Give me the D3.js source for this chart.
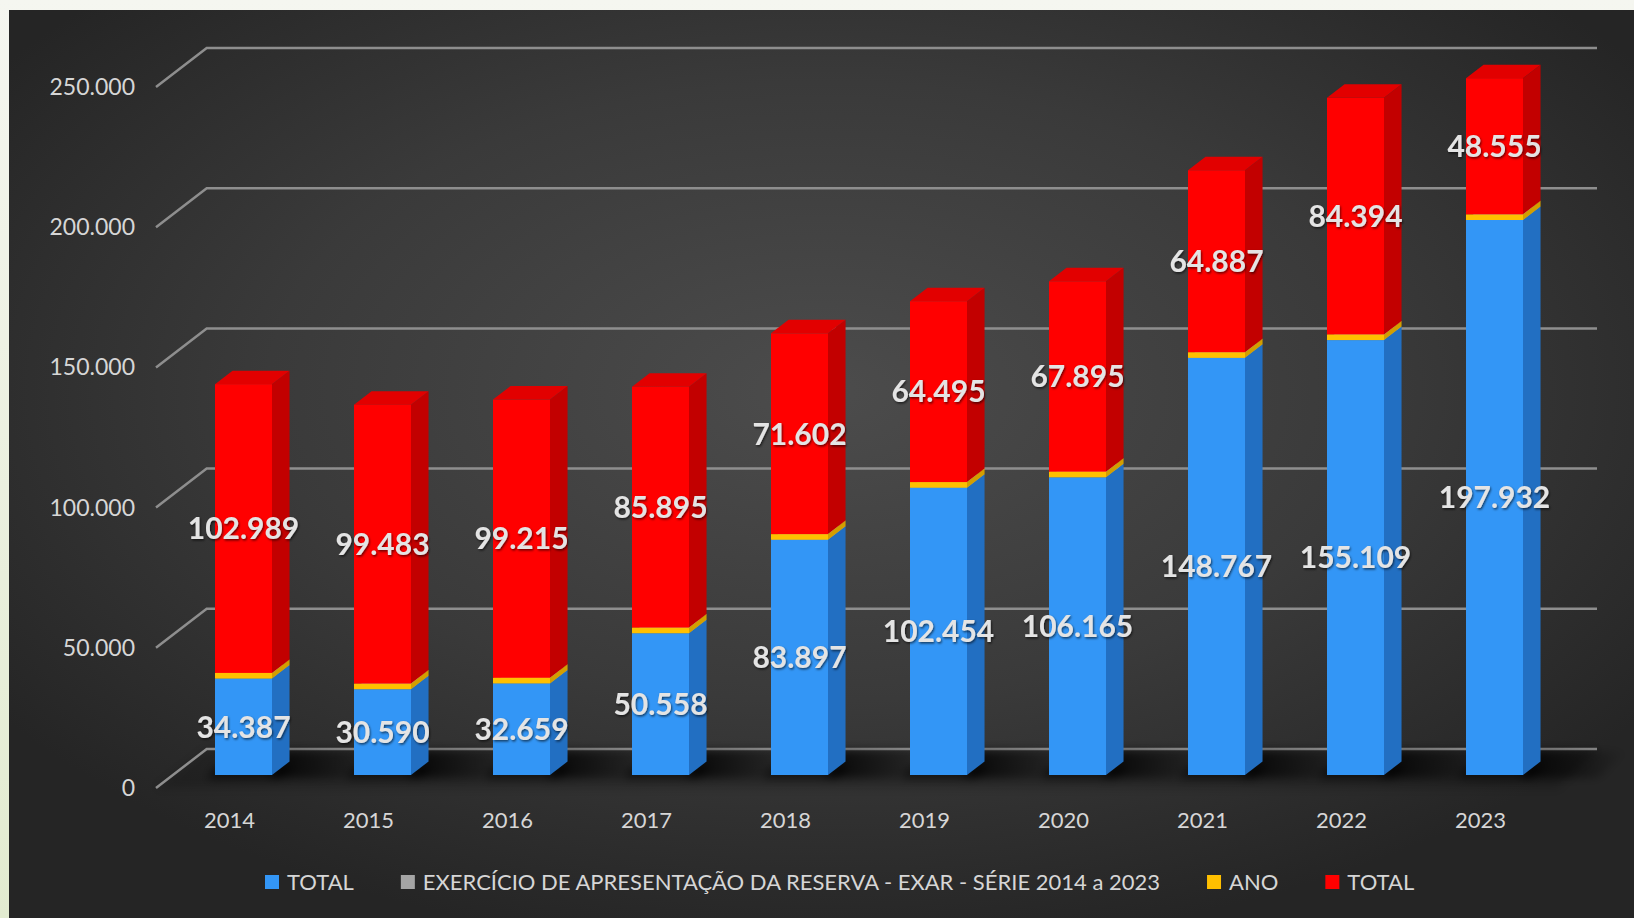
<!DOCTYPE html>
<html>
<head>
<meta charset="utf-8">
<script src="https://cdn.jsdelivr.net/npm/d3@7"></script>
<style>
  html, body { margin: 0; padding: 0; background: #eef2e4; }
  svg { display: block; }
  text { font-family: Lato, "Open Sans", sans-serif; }
</style>
</head>
<body>
<div id="chart"></div>
<script>
// dados da série
var years = ["2014", "2015", "2016", "2017", "2018", "2019", "2020", "2021", "2022", "2023"];
var totalBlue = [34387, 30590, 32659, 50558, 83897, 102454, 106165, 148767, 155109, 197932];
var exarValues = [0, 0, 0, 0, 0, 0, 0, 0, 0, 0];
var anoValues = [2014, 2015, 2016, 2017, 2018, 2019, 2020, 2021, 2022, 2023];
var totalRed = [102989, 99483, 99215, 85895, 71602, 64495, 67895, 64887, 84394, 48555];
var yTicks = [0, 50000, 100000, 150000, 200000, 250000];
var legendLabels = ["TOTAL", "EXERCÍCIO DE APRESENTAÇÃO DA RESERVA - EXAR - SÉRIE 2014 a 2023", "ANO", "TOTAL"];

var W = 1634, H = 918;

var series = [
    {key: "blue", values: totalBlue, front: "#3396f6", side: "#226fc2", top: "#55aaff", label: true},
    {key: "exar", values: exarValues, front: "#a5a5a5", side: "#7f7f7f", top: "#bdbdbd", label: false},
    {key: "ano", values: anoValues, front: "#ffc000", side: "#d39e00", top: "#ffd54a", label: false},
    {key: "red", values: totalRed, front: "#ff0000", side: "#c20000", top: "#e20000", label: true}
];

var rows = years.map(function(y, i) {
    var r = {year: y};
    series.forEach(function(s) { r[s.key] = s.values[i]; });
    return r;
});

var stacked = d3.stack().keys(series.map(function(s) { return s.key; }))(rows);

var fmt = d3.formatLocale({decimal: ",", thousands: ".", grouping: [3], currency: ["R$", ""]}).format(",d");

// direção da profundidade (projeção oblíqua)
function off(d) { return [d * 1.3, -d]; }
var barDepth = 13.5, floorFront = -13, wallBack = 26;

var x = d3.scaleBand()
    .domain(years)
    .range([174, 1564])
    .paddingInner(0.59)
    .paddingOuter(0.295);

var y = d3.scaleLinear()
    .domain([0, 250000])
    .range([775, 74]);

var svg = d3.select("#chart").append("svg")
    .attr("width", W)
    .attr("height", H);

var defs = svg.append("defs");

var outer = defs.append("linearGradient").attr("id", "outerBg")
    .attr("x1", 0).attr("y1", 0).attr("x2", 0).attr("y2", 1);
outer.append("stop").attr("offset", "0%").attr("stop-color", "#f5f6f0");
outer.append("stop").attr("offset", "100%").attr("stop-color", "#e2ebd0");

var panel = defs.append("radialGradient").attr("id", "panelBg")
    .attr("cx", "50%").attr("cy", "42%").attr("r", "62%");
panel.append("stop").attr("offset", "0%").attr("stop-color", "#4c4c4c");
panel.append("stop").attr("offset", "55%").attr("stop-color", "#3a3a3a");
panel.append("stop").attr("offset", "100%").attr("stop-color", "#252525");

var shade = defs.append("linearGradient").attr("id", "shadowGrad")
    .attr("x1", 0).attr("y1", 0).attr("x2", 1).attr("y2", 0);
shade.append("stop").attr("offset", "0%").attr("stop-color", "#000").attr("stop-opacity", 0.85);
shade.append("stop").attr("offset", "100%").attr("stop-color", "#000").attr("stop-opacity", 0);

defs.append("filter").attr("id", "blur").attr("x", "-20%").attr("y", "-50%").attr("width", "140%").attr("height", "200%")
    .append("feGaussianBlur").attr("stdDeviation", 4);

var txtShadow = defs.append("filter").attr("id", "txtShadow");
txtShadow.append("feDropShadow").attr("dx", 1).attr("dy", 1.5).attr("stdDeviation", 1.2)
    .attr("flood-color", "#000").attr("flood-opacity", 0.6);

svg.append("rect").attr("width", W).attr("height", H).attr("fill", "url(#outerBg)");
svg.append("rect").attr("x", 9).attr("y", 10).attr("width", W - 9).attr("height", H - 10)
    .attr("fill", "url(#panelBg)");

var wallLeft = 156, backRight = 1597;
function pt(px, py, d) { var o = off(d); return [px + o[0], py + o[1]]; }

// piso
svg.append("polygon")
    .attr("points", [[wallLeft, y(0) - floorFront], pt(wallLeft, y(0) - floorFront, wallBack - floorFront),
        [backRight, y(0) - wallBack], [backRight - 40, y(0) - floorFront]].join(" "))
    .attr("fill", "#000").attr("opacity", 0.18).attr("filter", "url(#blur)");

// linhas de grade + rótulos do eixo
var grid = svg.append("g").attr("class", "grid");
yTicks.forEach(function(v) {
    var fy = y(v) - floorFront;
    var b = pt(wallLeft, fy, wallBack - floorFront);
    grid.append("polyline")
        .attr("points", [[wallLeft, fy], b, [backRight, b[1]]].join(" "))
        .attr("fill", "none")
        .attr("stroke", "#8e8e8e")
        .attr("stroke-width", 2.5);
    grid.append("text")
        .attr("x", 135)
        .attr("y", fy)
        .attr("dy", "0.35em")
        .attr("text-anchor", "end")
        .attr("font-size", 23)
        .attr("fill", "#d6d6d6")
        .text(fmt(v));
});

// sombras das barras no piso
var shadows = svg.append("g").attr("filter", "url(#blur)");
years.forEach(function(yr) {
    var xr = x(yr) + x.bandwidth();
    var y0 = y(0);
    shadows.append("polygon")
        .attr("points", [[xr - 4, y0 + 3], [xr + 75, y0 + 3], [xr + 75 + 30, y0 - 24], [xr + 14, y0 - 24]].join(" "))
        .attr("fill", "url(#shadowGrad)");
    shadows.append("polygon")
        .attr("points", [[x(yr) - 8, y0 + 4], [xr + 10, y0 + 4], [xr + 20, y0 - 8], [x(yr), y0 - 8]].join(" "))
        .attr("fill", "#000").attr("opacity", 0.55);
});

// barras empilhadas 3D
var bars = svg.append("g").attr("class", "bars");
var bw = x.bandwidth();
var dd = off(barDepth);
stacked.forEach(function(layer, si) {
    var s = series[si];
    layer.forEach(function(d, i) {
        if (d[1] - d[0] <= 0) return;
        var x0 = x(years[i]), yb = y(d[0]), yt = y(d[1]);
        var g = bars.append("g");
        g.append("polygon")
            .attr("points", [[x0 + bw, yb], [x0 + bw + dd[0], yb + dd[1]], [x0 + bw + dd[0], yt + dd[1]], [x0 + bw, yt]].join(" "))
            .attr("fill", s.side);
        g.append("polygon")
            .attr("points", [[x0, yt], [x0 + bw, yt], [x0 + bw + dd[0], yt + dd[1]], [x0 + dd[0], yt + dd[1]]].join(" "))
            .attr("fill", s.top);
        g.append("rect")
            .attr("x", x0).attr("y", yt)
            .attr("width", bw).attr("height", yb - yt)
            .attr("fill", s.front);
    });
});

// rótulos de dados
var labels = svg.append("g").attr("class", "labels");
stacked.forEach(function(layer, si) {
    var s = series[si];
    if (!s.label) return;
    layer.forEach(function(d, i) {
        labels.append("text")
            .attr("x", x(years[i]) + bw / 2)
            .attr("y", (y(d[0]) + y(d[1])) / 2)
            .attr("dy", "0.36em")
            .attr("text-anchor", "middle")
            .attr("font-size", 30)
            .attr("font-weight", "bold")
            .attr("fill", "#e4e4e4")
            .attr("filter", "url(#txtShadow)")
            .text(fmt(s.values[i]));
    });
});

// eixo x
svg.append("g").selectAll("text")
    .data(years)
    .enter().append("text")
    .attr("x", function(d) { return x(d) + bw / 2 - 14; })
    .attr("y", 820)
    .attr("dy", "0.35em")
    .attr("text-anchor", "middle")
    .attr("font-size", 22)
    .attr("fill", "#d6d6d6")
    .text(function(d) { return d; });

// legenda
var legend = svg.append("g").attr("class", "legend");
var lx = 265, ly = 882;
series.forEach(function(s, i) {
    legend.append("rect")
        .attr("x", lx).attr("y", ly - 7)
        .attr("width", 14).attr("height", 14)
        .attr("fill", s.front);
    var t = legend.append("text")
        .attr("x", lx + 22)
        .attr("y", ly)
        .attr("dy", "0.35em")
        .attr("font-size", 22)
        .attr("fill", "#d6d6d6")
        .text(legendLabels[i]);
    lx += 22 + t.node().getComputedTextLength() + 47;
});
</script>
</body>
</html>
